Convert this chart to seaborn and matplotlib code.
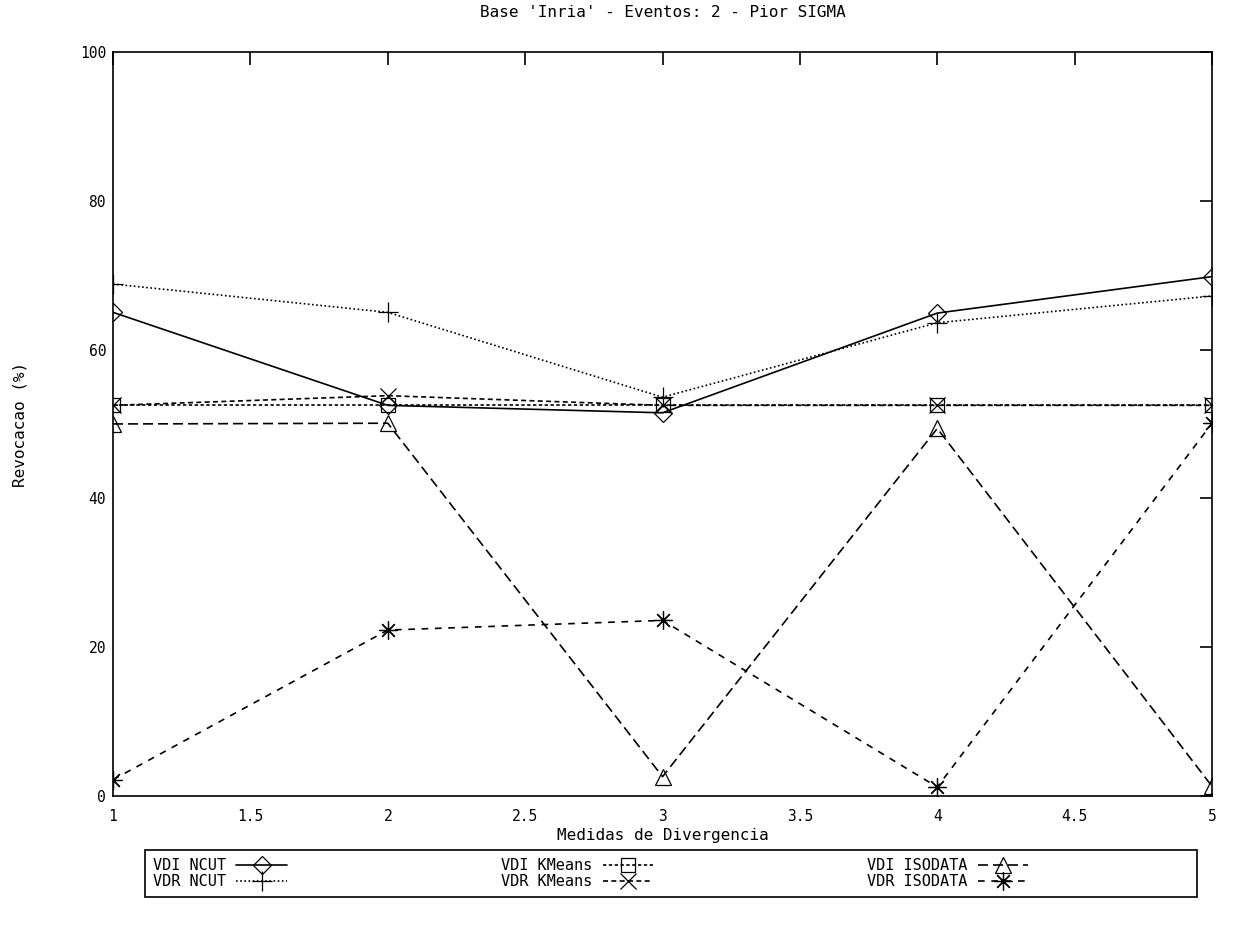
import matplotlib
matplotlib.use("Agg")
import matplotlib.pyplot as plt
from matplotlib.patches import Rectangle
import seaborn as sns
import pandas as pd

# dados
medidas = [1, 2, 3, 4, 5]
vdi_ncut = [65.0, 52.5, 51.5, 64.9, 69.8]
vdr_ncut = [68.8, 65.0, 53.6, 63.6, 67.2]
vdi_kmeans = [52.5, 52.5, 52.5, 52.5, 52.5]
vdr_kmeans = [52.5, 53.8, 52.5, 52.5, 52.5]
vdi_isodata = [50.0, 50.1, 2.6, 49.4, 1.3]
vdr_isodata = [2.2, 22.3, 23.6, 1.2, 50.1]

series = [
    ("VDI NCUT", vdi_ncut, "D", "-", 9),
    ("VDR NCUT", vdr_ncut, "+", (0, (1, 1.5)), 15),
    ("VDI KMeans", vdi_kmeans, "s", (0, (2, 1.5)), 10),
    ("VDR KMeans", vdr_kmeans, "x", (0, (3, 2)), 11),
    ("VDI ISODATA", vdi_isodata, "^", (0, (6, 3)), 11),
    ("VDR ISODATA", vdr_isodata, (8, 2, 0), (0, (4, 4)), 13),
]

sns.set_style("white")
plt.rcParams["font.family"] = ["DejaVu Sans Mono"]
plt.rcParams["text.color"] = "black"
plt.rcParams["axes.labelcolor"] = "black"

fig = plt.figure(figsize=(12.34, 9.27), dpi=100)
ax = fig.add_axes([0.0916, 0.1413, 0.8906, 0.8027])

for nome, valores, marc, estilo, tam in series:
    df = pd.DataFrame({"x": medidas, "y": valores})
    sns.lineplot(data=df, x="x", y="y", ax=ax, color="black", marker=marc,
                 markersize=tam, markerfacecolor="none", markeredgecolor="black",
                 markeredgewidth=0.9, linewidth=1.2, linestyle=estilo, label=nome,
                 legend=False)

ax.set_xlim(1, 5)
ax.set_ylim(0, 100)
ax.set_xticks([1, 1.5, 2, 2.5, 3, 3.5, 4, 4.5, 5])
ax.set_xticklabels(["1", "1.5", "2", "2.5", "3", "3.5", "4", "4.5", "5"])
ax.set_yticks([0, 20, 40, 60, 80, 100])
ax.tick_params(direction="in", top=True, right=True, length=9, width=1.2,
               labelsize=10.5, colors="black")
ax.tick_params(axis="y", pad=5)
ax.tick_params(axis="x", pad=9)
for s in ax.spines.values():
    s.set_color("black")
    s.set_linewidth(1.2)

ax.set_title("Base 'Inria' - Eventos: 2 - Pior SIGMA", fontsize=11.5, pad=25,
             color="black")
ax.set_xlabel("Medidas de Divergencia", fontsize=11.5, labelpad=3)
ax.set_ylabel("Revocacao (%)", fontsize=11.5, labelpad=38)

h, l = ax.get_legend_handles_labels()
leg = fig.legend(h, l, loc="center left", ncol=3,
                 bbox_to_anchor=(0.115, 0.0575),
                 markerfirst=False, handlelength=3.3, fontsize=11,
                 frameon=False, borderpad=0.2, columnspacing=14.0,
                 labelspacing=0.05, handletextpad=0.7, handleheight=0.6)
for t in leg.get_texts():
    t.set_color("black")
fig.patches.append(Rectangle((145 / 1234, 30 / 927), 1052 / 1234, 47 / 927,
                             transform=fig.transFigure, fill=False,
                             edgecolor="black", linewidth=1.2))

fig.savefig("out.png", dpi=100)
